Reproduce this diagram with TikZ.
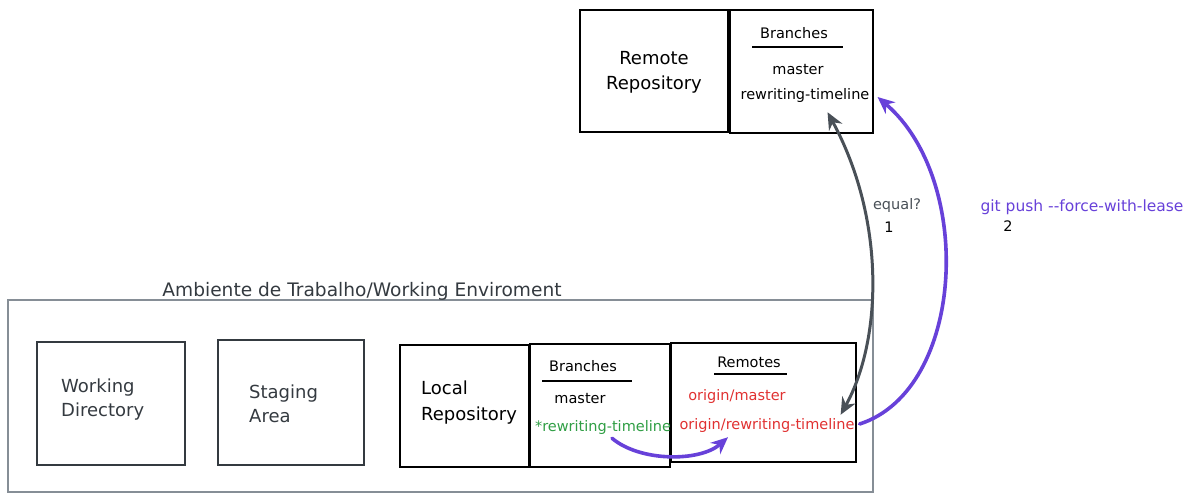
\documentclass[tikz,border=0pt]{standalone}
\usepackage{fontspec}
\setmainfont{DejaVu Sans}
\usetikzlibrary{arrows.meta}
\definecolor{myviolet}{HTML}{6741D9}
\definecolor{myred}{HTML}{E03131}
\definecolor{mygreen}{HTML}{2F9E44}
\definecolor{mygray}{HTML}{495057}
\definecolor{framegray}{HTML}{868E96}
\definecolor{darkgray}{HTML}{343A40}
\begin{document}
\begin{tikzpicture}[x=1pt,y=-1pt,
  box/.style={draw=black, line width=1.5pt, inner sep=0pt},
  softbox/.style={draw=darkgray, line width=1.4pt, inner sep=0pt},
  big/.style={font=\fontsize{18}{25}\selectfont, inner sep=0pt},
  small/.style={font=\fontsize{14.5}{17}\selectfont, inner sep=0pt},
  uline/.style={line width=1.5pt, black},
  grayarrow/.style={draw=mygray, line width=3pt, {Stealth[length=17pt,width=15pt]}-{Stealth[length=17pt,width=15pt]}},
  purplearrow/.style={draw=myviolet, line width=3.6pt, -{Stealth[length=17pt,width=15pt]}, line cap=round}
]
\useasboundingbox (0,0) rectangle (1197,501);

% Remote
\node[box, minimum width=148pt, minimum height=122pt] (remote) at (654,71) {};
\node[big, align=center] (remotetxt) at (654,72) {Remote\\Repository};
\node[box, minimum width=143pt, minimum height=123pt] (rbranches) at (801.5,71.5) {};
\node[small] (rbtitle) at (794,33) {Branches};
\draw[uline] (752,47) -- (843,47);
\node[small] (rmaster) at (798,70) {master};
\node[small] (rrt) at (805,95) {rewriting-timeline};

% Outer frame
\node[draw=framegray, line width=1.6pt, minimum width=865pt, minimum height=192pt] (env) at (440.5,396) {};
\node[font=\fontsize{18.6}{20}\selectfont, text=darkgray, inner sep=0pt] (envtitle) at (362,291) {Ambiente de Trabalho/Working Enviroment};

% Working directory / staging
\node[softbox, minimum width=148pt, minimum height=123pt] (wd) at (111,403.5) {};
\node[big, align=left, anchor=west, text=darkgray, font=\fontsize{18}{24}\selectfont] (wdtxt) at (61,400) {Working\\Directory};
\node[softbox, minimum width=146pt, minimum height=125pt] (sa) at (291,402.5) {};
\node[big, align=left, anchor=west, text=darkgray, font=\fontsize{18}{24}\selectfont] (satxt) at (249,404) {Staging\\Area};

% Local repository
\node[box, minimum width=129pt, minimum height=122pt] (lr) at (464.5,406) {};
\node[big, align=left, anchor=west, font=\fontsize{18}{26}\selectfont] (lrtxt) at (421,403) {Local\\Repository};
\node[box, minimum width=140pt, minimum height=123pt] (lb) at (600,405.5) {};
\node[small] (lbtitle) at (583,366) {Branches};
\draw[uline] (542,381) -- (632,381);
\node[small] (lmaster) at (580,399) {master};
\node[small, text=mygreen] (crt) at (603,427) {*rewriting-timeline};

% Remotes
\node[box, minimum width=185pt, minimum height=119pt] (rm) at (763.5,402.5) {};
\node[small] (rmtitle) at (749,362) {Remotes};
\draw[uline] (714,374) -- (787,374);
\node[small, text=myred] (om) at (737,396) {origin/master};
\node[small, text=myred] (orw) at (767,425) {origin/rewriting-timeline};

% labels
\node[small, text=mygray] (eq) at (897,205) {equal?};
\node[small] (one) at (889,227) {1};
\node[font=\fontsize{15.5}{17}\selectfont, text=myviolet, inner sep=0pt] (push) at (1082,207) {git push -{}-force-with-lease};
\node[small] (two) at (1008,226) {2};

% connectors
\draw[grayarrow] ([xshift=-14pt,yshift=3pt]orw.north east) .. controls (882,340) and (886,220) .. ([xshift=-42pt,yshift=-10pt]rrt.south east);
\draw[purplearrow] ([xshift=5pt,yshift=1pt]orw.east) .. controls (965,390) and (975,180) .. ([xshift=8pt,yshift=-2pt]rrt.east);
\draw[purplearrow] ([xshift=9pt,yshift=-4pt]crt.south) .. controls (640,462) and (700,462) .. ([xshift=-39pt,yshift=-5pt]orw.south);
\end{tikzpicture}
\end{document}
